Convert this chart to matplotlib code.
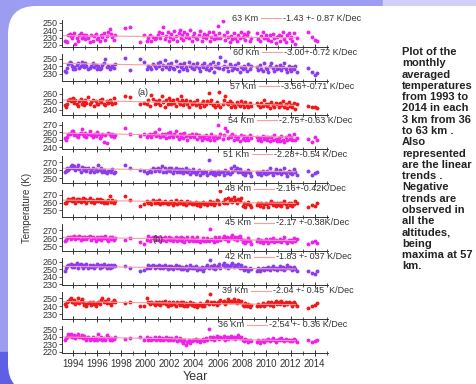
import numpy as np
import matplotlib
matplotlib.use("Agg")
import matplotlib.pyplot as plt
from matplotlib.patches import FancyBboxPatch, Rectangle
from matplotlib.ticker import MultipleLocator

plt.rcParams['font.family'] = ['Liberation Sans', 'DejaVu Sans']

# months with a lidar monthly mean (same for every altitude)
months = {
    1993: [5, 6, 7, 8, 10, 11, 12],
    1994: [1, 2, 3, 5, 6, 7, 9, 10, 11, 12],
    1995: [1, 2, 4, 5, 6, 8, 9, 11, 12],
    1996: [1, 3, 4, 5, 7, 8, 10, 11],
    1997: [1, 2, 3, 5, 6],
    1998: [4, 9],
    1999: [7, 11],
    2000: [2, 3, 5, 6, 8, 10, 11],
    2001: [1, 2, 3, 5, 6, 8, 9, 11, 12],
    2002: [1, 2, 4, 5, 7, 8, 10, 11, 12],
    2003: [1, 2, 3, 5, 6, 8, 9, 11, 12],
    2004: [1, 3, 4, 6, 7, 9, 10, 11],
    2005: [1, 2, 4, 5, 6, 8, 9, 10, 12],
    2006: [1, 2, 3, 5, 6, 7, 9, 10, 12],
    2007: [1, 2, 4, 5, 7, 8, 10, 11],
    2008: [1, 2, 3, 5, 6, 8, 9],
    2009: [3, 4, 6, 7, 9, 10, 12],
    2010: [1, 2, 4, 5, 7, 8, 10, 11],
    2011: [1, 2, 3, 5, 6, 8, 9, 11, 12],
    2012: [1, 2, 4, 5, 7],
    2013: [6, 10],
    2014: [1, 3],
}
t = np.array([y + (m - 0.5) / 12.0 for y in sorted(months) for m in months[y]])

altitudes = [63, 60, 57, 54, 51, 48, 45, 42, 39, 36]
trend_text = ["-1.43 +- 0.87 K/Dec", "-3.00+-0.72 K/Dec", "-3.56+-0.71 K/Dec",
              "-2.75+-0.63 K/Dec", "-2.28+-0.54 K/Dec", "-2.16+-0.42K/Dec",
              "-2.17 +-0.38K/Dec", "-1.83 +- 037 K/Dec", "-2.04 +- 0.45  K/Dec",
              "-2.54 +- 0.36 K/Dec"]
slope = [-1.43, -3.00, -3.56, -2.75, -2.28, -2.16, -2.17, -1.83, -2.04, -2.54]  # K/decade
level = [231, 241, 249, 256, 260, 261, 259, 252, 244, 237]  # trend value in 2003

temp63 = [225, 226, 224, 233, 235, 232, 229,
          234, 236, 222, 230, 226, 233, 236, 229, 231, 234,
          228, 234, 230, 224, 233, 226, 232, 235, 228,
          230, 225, 233, 231, 236, 227, 232, 238,
          241, 235, 231, 227, 233,
          243, 244,
          224, 234,
          226, 229, 233, 225, 231, 228, 230,
          234, 238, 229, 236, 244, 228, 232, 237, 226,
          231, 235, 228, 239, 232, 226, 236, 240, 229,
          233, 227, 238, 231, 235, 229, 240, 226, 232,
          236, 230, 228, 234, 239, 225, 231, 235,
          229, 233, 237, 226, 231, 238, 228, 234, 230,
          245, 236, 229, 252, 233, 227, 238, 231, 224,
          232, 228, 236, 230, 226, 234, 229, 237,
          231, 235, 227, 233, 238, 225, 230,
          236, 228, 226, 232, 237, 229, 234,
          230, 227, 233, 225, 235, 229, 223, 231,
          234, 226, 232, 237, 228, 224, 233, 236, 229,
          231, 225, 236, 222, 229,
          238, 231,
          227, 225]
temp60 = [234, 232, 238, 243, 246, 244, 241,
          236, 239, 237, 242, 245, 238, 240, 246, 243, 239,
          244, 240, 236, 238, 241, 245, 239, 242, 237,
          240, 236, 238, 242, 244, 250, 239, 241,
          236, 239, 241, 238, 243,
          251, 235,
          250, 246,
          237, 241, 239, 236, 243, 240, 238,
          244, 240, 246, 237, 242, 248, 239, 243, 236,
          241, 245, 238, 236, 247, 240, 234, 243, 239,
          242, 237, 244, 239, 235, 246, 240, 238, 243,
          236, 241, 245, 238, 234, 242, 239, 244,
          237, 240, 235, 243, 238, 246, 232, 241, 239,
          244, 238, 252, 236, 241, 247, 239, 234, 243,
          240, 235, 238, 242, 237, 244, 233, 239,
          236, 241, 238, 234, 243, 237, 240,
          239, 235, 242, 237, 234, 244, 238,
          236, 232, 240, 245, 238, 234, 241, 237,
          238, 242, 235, 239, 244, 236, 233, 240, 237,
          234, 239, 236, 241, 233,
          238, 233,
          229, 231]
temp57 = [246, 243, 248, 252, 254, 251, 253,
          255, 249, 252, 247, 245, 251, 254, 248, 250, 246,
          252, 249, 256, 247, 250, 253, 245, 251, 248,
          247, 252, 250, 254, 248, 246, 251, 249,
          253, 250, 247, 255, 249,
          258, 256,
          247, 249,
          248, 252, 245, 259, 254, 247, 251,
          249, 253, 246, 258, 250, 244, 252, 248, 255,
          251, 247, 253, 249, 245, 254, 250, 248, 257,
          252, 246, 250, 253, 248, 244, 251, 247, 249,
          250, 246, 252, 248, 243, 249, 251, 245,
          247, 251, 261, 249, 252, 246, 248, 243, 250,
          246, 262, 244, 248, 252, 258, 249, 247, 251,
          244, 249, 246, 243, 250, 247, 245, 251,
          248, 244, 250, 246, 243, 249, 245,
          249, 246, 243, 249, 245, 252, 247,
          245, 248, 242, 250, 246, 244, 249, 247,
          243, 249, 246, 251, 244, 247, 242, 250, 245,
          246, 243, 249, 241, 247,
          245, 243,
          244, 242]
temp54 = [252, 250, 254, 257, 258, 259, 261,
          262, 256, 258, 255, 253, 258, 259, 264, 257, 255,
          259, 254, 257, 262, 256, 253, 258, 255, 260,
          257, 252, 255, 258, 247, 256, 246, 259,
          257, 255, 258, 254, 256,
          265, 258,
          255, 257,
          253, 256, 258, 254, 257, 260, 255,
          256, 264, 253, 258, 255, 257, 252, 259, 254,
          260, 256, 253, 258, 262, 255, 251, 257, 254,
          257, 252, 259, 255, 250, 256, 253, 258, 255,
          254, 258, 251, 256, 253, 249, 255, 252,
          256, 251, 254, 250, 257, 253, 249, 255, 252,
          270, 254, 258, 251, 256, 265, 262, 252, 255,
          253, 257, 250, 255, 251, 254, 248, 256,
          251, 255, 249, 253, 250, 256, 252,
          254, 249, 252, 248, 255, 251, 253,
          250, 254, 248, 253, 249, 256, 251, 248,
          252, 248, 255, 250, 247, 253, 249, 256, 251,
          253, 249, 258, 250, 252,
          251, 247,
          253, 249]
temp51 = [257, 259, 262, 260, 263, 265, 266,
          262, 265, 260, 263, 266, 261, 258, 264, 262, 260,
          263, 259, 262, 257, 260, 263, 258, 261, 259,
          266, 260, 262, 257, 260, 258, 256, 259,
          259, 257, 261, 256, 258,
          267, 262,
          260, 259,
          256, 258, 260, 257, 262, 259, 261,
          263, 259, 261, 265, 258, 262, 257, 260, 263,
          259, 262, 256, 260, 263, 258, 261, 257, 259,
          261, 256, 259, 262, 257, 260, 255, 258, 261,
          258, 255, 257, 260, 254, 258, 256, 259,
          257, 254, 273, 256, 259, 255, 257, 254, 256,
          259, 255, 257, 257, 254, 260, 256, 258, 255,
          262, 258, 265, 260, 263, 257, 261, 258,
          255, 258, 254, 257, 260, 256, 253,
          258, 255, 257, 254, 259, 256, 255,
          259, 256, 262, 257, 254, 258, 261, 256,
          257, 260, 255, 258, 262, 256, 253, 259, 256,
          258, 255, 261, 257, 254,
          259, 254,
          256, 258]
temp48 = [259, 260, 262, 264, 263, 265, 262,
          266, 263, 260, 264, 262, 265, 261, 263, 266, 262,
          264, 260, 263, 266, 261, 263, 259, 262, 264,
          262, 265, 261, 263, 259, 262, 260, 263,
          268, 261, 263, 260, 262,
          268, 263,
          256, 258,
          262, 259, 261, 258, 263, 260, 262,
          260, 263, 258, 261, 259, 262, 260, 258, 261,
          259, 262, 257, 260, 263, 258, 261, 259, 262,
          261, 258, 260, 257, 262, 259, 261, 258, 260,
          258, 261, 257, 260, 256, 259, 261, 258,
          260, 257, 259, 262, 258, 261, 257, 260, 263,
          262, 258, 274, 261, 259, 264, 260, 266, 262,
          265, 261, 267, 263, 260, 264, 262, 266,
          256, 259, 255, 258, 261, 257, 254,
          257, 260, 256, 259, 255, 258, 260,
          258, 255, 259, 262, 257, 260, 256, 259,
          257, 260, 256, 259, 262, 258, 255, 259, 257,
          260, 256, 258, 262, 259,
          255, 257,
          256, 259]
temp45 = [256, 258, 260, 262, 261, 259, 262,
          261, 263, 259, 262, 260, 263, 258, 261, 259, 262,
          262, 259, 261, 263, 258, 262, 260, 257, 261,
          259, 262, 258, 261, 260, 263, 259, 257,
          261, 259, 262, 258, 260,
          258, 260,
          255, 253,
          258, 263, 257, 260, 262, 258, 261,
          259, 262, 257, 260, 258, 261, 256, 259, 262,
          258, 260, 256, 259, 262, 257, 260, 258, 261,
          257, 260, 255, 259, 262, 256, 258, 261, 257,
          259, 256, 261, 257, 255, 258, 260, 256,
          257, 260, 256, 272, 259, 258, 255, 261, 257,
          259, 262, 258, 260, 263, 259, 261, 257, 260,
          261, 264, 259, 262, 258, 261, 263, 259,
          255, 258, 254, 257, 260, 256, 253,
          256, 259, 255, 258, 254, 257, 259,
          257, 254, 259, 256, 260, 255, 258, 257,
          256, 259, 255, 258, 261, 257, 254, 258, 256,
          258, 255, 260, 256, 259,
          253, 255,
          257, 254]
temp42 = [248, 251, 254, 256, 255, 257, 253,
          256, 253, 255, 258, 252, 255, 257, 254, 251, 256,
          254, 257, 252, 255, 253, 256, 251, 254, 257,
          255, 252, 256, 253, 257, 254, 251, 255,
          252, 255, 253, 256, 254,
          254, 252,
          248, 249,
          252, 255, 251, 254, 256, 252, 254,
          253, 256, 252, 254, 251, 255, 253, 250, 254,
          252, 254, 250, 253, 255, 251, 254, 252, 250,
          253, 250, 252, 254, 249, 252, 255, 251, 253,
          251, 254, 249, 252, 250, 253, 248, 251,
          253, 256, 251, 262, 254, 252, 255, 250, 253,
          254, 257, 252, 255, 258, 253, 256, 251, 254,
          255, 258, 253, 256, 254, 257, 252, 255,
          251, 249, 253, 250, 248, 252, 250,
          248, 251, 247, 250, 252, 249, 251,
          250, 253, 249, 251, 254, 250, 252, 249,
          251, 254, 250, 253, 249, 252, 255, 251, 253,
          252, 249, 253, 250, 248,
          247, 245,
          244, 248]
temp39 = [243, 241, 245, 247, 249, 250, 246,
          245, 248, 243, 246, 250, 244, 247, 249, 245, 242,
          243, 241, 244, 246, 242, 245, 243, 241, 244,
          246, 243, 248, 251, 245, 247, 244, 249,
          244, 242, 246, 248, 245,
          244, 246,
          241, 240,
          250, 245, 243, 246, 244, 242, 245,
          243, 246, 242, 245, 244, 247, 243, 241, 245,
          244, 242, 246, 243, 241, 245, 244, 242, 246,
          242, 245, 241, 244, 240, 243, 245, 242, 244,
          241, 243, 239, 242, 244, 240, 243, 241,
          244, 247, 243, 255, 245, 243, 246, 244, 242,
          246, 244, 248, 245, 247, 243, 246, 249, 245,
          247, 245, 249, 246, 244, 248, 245, 247,
          242, 240, 244, 241, 243, 239, 242,
          241, 243, 240, 242, 244, 241, 243,
          243, 246, 242, 245, 241, 244, 247, 243,
          245, 243, 247, 244, 242, 246, 243, 245, 244,
          244, 241, 245, 243, 240,
          238, 240,
          242, 244]
temp36 = [236, 238, 240, 243, 241, 244, 239,
          240, 242, 238, 241, 243, 239, 240, 242, 238, 241,
          238, 236, 239, 235, 237, 240, 236, 238, 235,
          244, 237, 240, 235, 238, 236, 242, 239,
          236, 238, 235, 237, 239,
          237, 238,
          239, 236,
          240, 236, 238, 235, 237, 239, 236,
          237, 239, 236, 238, 235, 237, 239, 236, 238,
          236, 238, 235, 237, 239, 234, 236, 238, 235,
          234, 231, 236, 229, 233, 235, 232, 234, 236,
          235, 237, 234, 236, 233, 235, 237, 234,
          238, 236, 250, 239, 237, 240, 236, 238, 241,
          239, 237, 240, 238, 241, 236, 239, 237, 240,
          241, 238, 240, 237, 239, 242, 238, 240,
          236, 234, 237, 235, 233, 236, 234,
          233, 235, 232, 234, 236, 233, 235,
          235, 237, 234, 236, 238, 235, 233, 236,
          237, 235, 238, 236, 234, 237, 235, 236, 234,
          236, 234, 237, 235, 233,
          235, 233,
          234, 236]
temps = [temp63, temp60, temp57, temp54, temp51, temp48, temp45, temp42, temp39, temp36]

ylims = [(218, 254), (221, 257), (234, 268), (238, 274), (244, 278),
         (242, 276), (244, 278), (229, 265), (224, 258), (218, 254)]
yticks = [[220, 230, 240, 250], [230, 240, 250], [240, 250, 260], [240, 250, 260, 270],
          [250, 260, 270], [250, 260, 270], [250, 260, 270], [230, 240, 250, 260],
          [230, 240, 250], [220, 230, 240, 250]]
colors = ['#f020f0', '#8a3cf0', '#f01818'] * 3 + ['#f020f0']
trend_color = '#f4a0a0'
label_px = [232, 233, 230, 228, 223, 225, 225, 225, 222, 218]

W, H = 477, 384
fig = plt.figure(figsize=(W / 100, H / 100), dpi=100, facecolor='#9c9cf0')

# slide background
bg = fig.add_axes([0, 0, 1, 1])
bg.set_xlim(0, W)
bg.set_ylim(H, 0)
bg.axis('off')
bg.add_patch(Rectangle((0, 352), 40, 40, color='#5f5fe6'))
bg.add_patch(Rectangle((383, 0), 100, 8, color='#cfcff8'))
bg.add_patch(FancyBboxPatch((8, 6), 600, 386, boxstyle="round,pad=0,rounding_size=28",
                            facecolor='white', edgecolor='none'))

x0, x1 = 62, 328
for i in range(10):
    spine = 46.5 + 34.07 * i
    ax = fig.add_axes([x0 / W, 1 - spine / H, (x1 - x0) / W, 27 / H])
    ax.patch.set_alpha(0)
    ax.plot(t, temps[i], 'o', ms=2.8, mew=0, color=colors[i])
    tt = np.array([1993.2, 2012.4])
    ax.plot(tt, level[i] + slope[i] * (tt - 2003) / 10, color=trend_color, lw=0.8)
    ax.set_xlim(1993.1, 2015.1)
    ax.set_ylim(*ylims[i])
    ax.set_yticks(yticks[i])
    ax.xaxis.set_major_locator(MultipleLocator(2))
    ax.xaxis.set_minor_locator(MultipleLocator(1))
    for s in ['top', 'right']:
        ax.spines[s].set_visible(False)
    for s in ['left', 'bottom']:
        ax.spines[s].set_linewidth(0.7)
        ax.spines[s].set_color('#333333')
    ax.tick_params(axis='y', direction='out', length=2, width=0.6, pad=1,
                   labelsize=6.5, colors='#333333')
    ax.tick_params(axis='x', which='major', direction='inout', length=4, width=0.7,
                   labelsize=7, colors='#333333', pad=2)
    ax.tick_params(axis='x', which='minor', direction='inout', length=2.5, width=0.6,
                   colors='#333333')
    if i < 9:
        ax.tick_params(axis='x', labelbottom=False)
    else:
        ax.set_xticks(range(1994, 2015, 2))

    kx = (label_px[i] - x0) / (x1 - x0)
    dx = 1.0 / (x1 - x0)
    ax.text(kx, 1.05, f"{altitudes[i]} Km", transform=ax.transAxes, fontsize=6.5,
            va='center', ha='left', color='#333333', clip_on=False)
    ax.plot([kx + 29 * dx, kx + 49 * dx], [1.05, 1.05], transform=ax.transAxes,
            color=trend_color, lw=0.8, clip_on=False)
    ax.text(kx + 51 * dx, 1.05, trend_text[i], transform=ax.transAxes, fontsize=6.5,
            va='center', ha='left', color='#333333', clip_on=False)
    if i == 2:
        ax.text(1999.8, 262, "(a)", fontsize=6.5, color='#333333', ha='center', va='center')
    if i == 6:
        ax.text(2001.0, 259, "(b)", fontsize=6.5, color='#333333', ha='center', va='center')

fig.text(27 / W, 1 - 208 / H, "Temperature (K)", rotation=90, fontsize=7,
         ha='center', va='center', color='#333333')
fig.text(195 / W, 1 - 377 / H, "Year", fontsize=9, ha='center', va='center',
         color='#333333')

note = ("Plot of the\nmonthly\naveraged\ntemperatures\nfrom 1993 to\n2014 in each\n"
        "3 km from 36\nto 63 km .\nAlso\nrepresented\nare the linear\ntrends .\n"
        "Negative\ntrends are\nobserved in\nall the\naltitudes,\nbeing\n"
        "maxima at 57\nkm.")
fig.text(402 / W, 1 - 47 / H, note, fontsize=8, fontweight='bold', va='top',
         ha='left', linespacing=1.16, color='#222222')

fig.savefig("out.png", dpi=100, facecolor=fig.get_facecolor())
